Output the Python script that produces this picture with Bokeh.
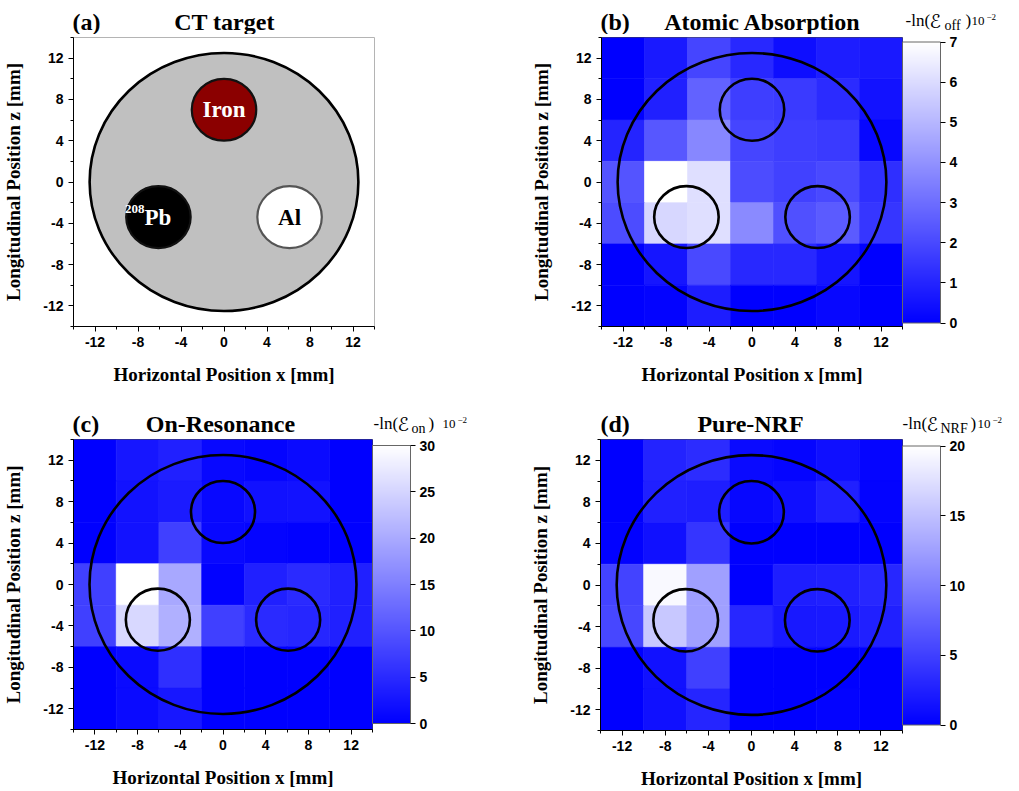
from bokeh.plotting import figure
from bokeh.models import (LinearColorMapper, ColorBar, SingleIntervalTicker,
                          FixedTicker, Label, ColumnDataSource, Range1d)
from bokeh.layouts import column, row
from bokeh.core.properties import value
from bokeh.embed import file_html
from bokeh.resources import INLINE

# ---- scan grid (cell centres, mm) ----
x_centers = [-12, -8, -4, 0, 4, 8, 12]
z_centers = [12, 8, 4, 0, -4, -8, -12]   # rows listed from top to bottom

# -ln(E_off) x 1e-2, atomic absorption
absorption_rows = [
    [0.0, 0.7, 1.9, 1.1, 0.4, 0.8, 0.7],
    [0.0, 0.9, 2.7, 1.7, 1.6, 1.2, 0.5],
    [1.0, 2.4, 3.7, 1.9, 1.7, 1.6, 0.2],
    [2.3, 7.0, 6.1, 2.1, 1.8, 2.0, 1.3],
    [2.1, 5.9, 6.1, 3.8, 2.2, 2.5, 1.5],
    [0.0, 0.6, 2.0, 1.1, 1.1, 0.6, 0.0],
    [0.0, 0.1, 0.8, 0.0, 0.0, 0.2, 0.0],
]
# -ln(E_on) x 1e-2, on-resonance
resonance_rows = [
    [0.0, 2.6, 3.8, 1.0, 0.5, 1.2, 0.0],
    [0.0, 2.2, 3.2, 1.0, 2.0, 2.2, 0.0],
    [0.0, 2.2, 7.5, 1.0, 0.5, 0.2, 0.0],
    [7.5, 30.0, 19.8, 0.3, 3.8, 5.0, 3.8],
    [7.5, 25.4, 20.7, 7.5, 5.0, 4.5, 3.8],
    [0.0, 1.2, 5.6, 0.0, 0.0, 0.0, 0.0],
    [0.0, 1.2, 2.8, 0.0, 0.0, 0.0, 0.0],
]
# -ln(E_NRF) x 1e-2, pure NRF
nrf_rows = [
    [0.0, 2.8, 3.5, 0.8, 0.4, 1.2, 0.4],
    [0.0, 2.5, 2.4, 0.6, 1.2, 2.5, 0.3],
    [0.2, 1.3, 4.2, 0.0, 0.0, 0.0, 0.0],
    [5.3, 19.5, 12.5, 0.0, 2.4, 2.5, 3.1],
    [5.6, 15.7, 12.5, 3.1, 1.9, 2.0, 2.5],
    [0.0, 1.4, 5.0, 0.0, 0.0, 0.0, 0.0],
    [0.0, 1.3, 2.9, 0.0, 0.0, 0.3, 0.0],
]

absorption_ticks = [0, 1, 2, 3, 4, 5, 6, 7]
resonance_ticks = [0, 5, 10, 15, 20, 25, 30]
nrf_ticks = [0, 5, 10, 15, 20]
axis_ticks = [-12, -8, -4, 0, 4, 8, 12]

# ---- CT target geometry (mm) ----
target_radius = 12.5
insert_x = [0.0, -6.1, 6.1]
insert_z = [7.0, -3.4, -3.4]
insert_radius = 3.0
insert_fill = ["#8b0000", "#000000", "#ffffff"]
insert_edge = ["#111111", "#111111", "#555555"]

SERIF = "Liberation Serif"
SANS = "Liberation Sans"
SCRIPT = "DejaVu Sans"
PALETTE = ["#%02x%02xff" % (i, i) for i in range(256)]
HYPHEN_LABELS = {t: str(t) for t in axis_ticks}
PAGE_W = 1019


def make_panel(fw, fh, left, right, top, bottom, outline):
    p = figure(width=left + fw + right, height=top + fh + bottom,
               frame_width=fw, frame_height=fh,
               x_range=Range1d(-14, 14), y_range=Range1d(-14, 14),
               output_backend="svg", toolbar_location=None,
               min_border_left=left, min_border_right=right,
               min_border_top=top, min_border_bottom=bottom)
    p.grid.visible = False
    p.outline_line_color = outline
    p.background_fill_color = "white"
    for ax in (p.xaxis[0], p.yaxis[0]):
        ax.ticker = SingleIntervalTicker(interval=4, num_minor_ticks=2)
        ax.major_label_overrides = HYPHEN_LABELS
        ax.axis_line_color = "black"
        ax.major_tick_in = 0
        ax.major_tick_out = 5
        ax.minor_tick_in = 0
        ax.minor_tick_out = 3
        ax.major_tick_line_color = "black"
        ax.minor_tick_line_color = "black"
        ax.major_label_text_font = SANS
        ax.major_label_text_font_style = "bold"
        ax.major_label_text_font_size = "14px"
        ax.major_label_text_color = "black"
        ax.axis_label_text_font = SERIF
        ax.axis_label_text_font_style = "bold"
        ax.axis_label_text_font_size = "19px"
        ax.axis_label_text_color = "black"
    p.xaxis.axis_label = "Horizontal Position x [mm]"
    p.yaxis.axis_label = "Longitudinal Position z [mm]"
    p.xaxis.axis_label_standoff = 14
    p.yaxis.axis_label_standoff = 16
    return p


def make_header(height):
    # full-width strip carrying the panel titles and colour-bar captions
    h = figure(width=PAGE_W, height=height, x_range=Range1d(0, PAGE_W),
               y_range=Range1d(0, height), output_backend="svg",
               toolbar_location=None, min_border=0,
               x_axis_type=None, y_axis_type=None)
    h.grid.visible = False
    h.outline_line_color = None
    return h


def put(h, x, y, text, size, bold=False, align="left", font=SERIF):
    # y is the vertical middle of the text
    h.add_layout(Label(x=x, y=y, text=text, text_font=font,
                       text_font_style="bold" if bold else "normal",
                       text_font_size=size, text_align=align,
                       text_baseline="middle", text_color="black"))


def add_title(h, tag_x, title_x, mid, tag, title):
    put(h, tag_x, mid, tag, "24px", bold=True)
    put(h, title_x, mid, title, "24px", bold=True, align="center")


def add_cb_caption(h, mid, xs, sub):
    # -ln(E_sub) 10^-2 assembled from pieces
    x_ln, x_e, x_sub, x_par, x_ten, x_exp = xs
    put(h, x_ln, mid, "-ln(", "17px")
    put(h, x_e, mid, "\u2130", "19px", font=SCRIPT)
    put(h, x_sub, mid - 5, sub, "14px")
    put(h, x_par, mid, ")", "17px")
    put(h, x_ten, mid - 0.5, "10", "13px")
    put(h, x_exp, mid + 4, "\u22122", "9px")


def draw_outlines(p):
    p.ellipse(x=[0], y=[0], width=2 * target_radius, height=2 * target_radius,
              fill_color=None, line_color="black", line_width=2.6)
    p.ellipse(x=insert_x, y=insert_z, width=2 * insert_radius,
              height=2 * insert_radius, fill_color=None, line_color="black",
              line_width=2.6)


def heat_panel(rows, ticks, high, fw, fh, left, right, top, bottom, cb_h):
    p = make_panel(fw, fh, left, right, top, bottom, "#444444")
    xs, zs, vs = [], [], []
    for z, r in zip(z_centers, rows):
        for x, v in zip(x_centers, r):
            xs.append(x)
            zs.append(z)
            vs.append(v)
    src = ColumnDataSource(dict(x=xs, z=zs, v=vs))
    mapper = LinearColorMapper(palette=PALETTE, low=0, high=high)
    p.rect(x="x", y="z", width=4, height=4, source=src,
           fill_color={"field": "v", "transform": mapper},
           line_color={"field": "v", "transform": mapper}, line_width=0.6)
    draw_outlines(p)
    cb = ColorBar(color_mapper=mapper, ticker=FixedTicker(ticks=ticks),
                  width=38, height=cb_h, padding=0, margin=4,
                  location="center_left",
                  major_tick_in=0, major_tick_out=5,
                  major_tick_line_color="black", minor_tick_line_color=None,
                  bar_line_color="#666666", bar_line_width=1,
                  border_line_color=None, background_fill_color=None,
                  label_standoff=4, major_label_text_font=SANS,
                  major_label_text_font_style="bold",
                  major_label_text_font_size="14px",
                  major_label_text_color="black")
    p.add_layout(cb, "right")
    return p


HEAD1 = 34
HEAD2 = 42

# titles and captions, positions in page pixels (y measured up from strip bottom)
h1 = make_header(HEAD1)
add_title(h1, 72, 224, 13, "(a)", "CT target")
add_title(h1, 600, 762, 13, "(b)", "Atomic Absorption")
add_cb_caption(h1, 14, [905, 929, 944, 965, 971, 986], "off")

h2 = make_header(HEAD2)
add_title(h2, 72, 220, 14, "(c)", "On-Resonance")
add_title(h2, 600, 750, 14, "(d)", "Pure-NRF")
add_cb_caption(h2, 14, [373, 397, 411, 428, 442, 457], "on")
add_cb_caption(h2, 14, [902, 926, 940, 970, 977, 992], "NRF")

# (a) CT target
pa = make_panel(301, 289, 72, 117, 2, 70, "#b4b4b4")
pa.ellipse(x=[0], y=[0], width=2 * target_radius, height=2 * target_radius,
           fill_color="#c0c0c0", line_color="black", line_width=2.6)
pa.ellipse(x=insert_x, y=insert_z, width=2 * insert_radius,
           height=2 * insert_radius, fill_color=insert_fill,
           line_color=insert_edge, line_width=2.2)
pa.text(x=[insert_x[0]], y=[insert_z[0]], text=["Iron"], text_color="white",
        text_font=value(SERIF), text_font_style="bold", text_font_size="23px",
        text_align="center", text_baseline="middle")
pa.text(x=[insert_x[1] - 1.3], y=[insert_z[1]], text=["Pb"], text_color="white",
        text_font=value(SERIF), text_font_style="bold", text_font_size="23px",
        text_align="left", text_baseline="middle")
pa.text(x=[insert_x[1] - 1.3], y=[insert_z[1] + 0.8], text=["208"],
        text_color="white", text_font=value(SERIF), text_font_style="bold",
        text_font_size="13px", text_align="right", text_baseline="middle")
pa.text(x=[insert_x[2]], y=[insert_z[2]], text=["Al"], text_color="black",
        text_font=value(SERIF), text_font_style="bold", text_font_size="23px",
        text_align="center", text_baseline="middle")

# (b) atomic absorption
pb = heat_panel(absorption_rows, absorption_ticks, 7.0, 301, 289, 110, 118, 3, 69, 281)
# (c) on-resonance
pc = heat_panel(resonance_rows, resonance_ticks, 30.0, 299, 290, 73, 118, 2, 62, 278)
# (d) pure NRF
pd = heat_panel(nrf_rows, nrf_ticks, 20.0, 302, 291, 110, 117, 2, 61, 279)

layout = column(h1, row(pa, pb), h2, row(pc, pd))
open("out.html", "w").write(file_html(layout, INLINE))
